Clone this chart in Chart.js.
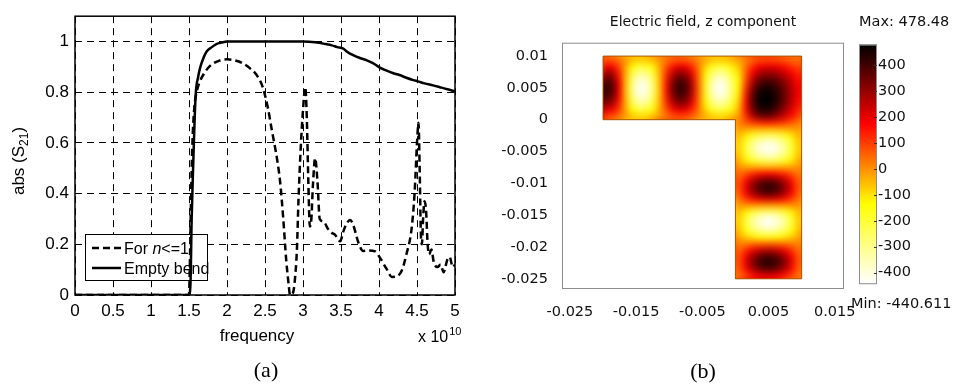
<!DOCTYPE html>
<html>
<head>
<meta charset="utf-8">
<script src="https://cdn.jsdelivr.net/npm/chart.js@4.4.1/dist/chart.umd.min.js"></script>
<style>
	html, body { margin: 0; padding: 0; background: #fff; }
	body { width: 960px; height: 388px; position: relative; overflow: hidden; }
	.panel { position: absolute; top: 0; width: 480px; height: 388px; }
	#left { left: 0; }
	#right { left: 480px; }
	.cap { position: absolute; font-family: "Liberation Serif", serif; font-size: 22px; line-height: 22px; color: #000; transform: translateX(-50%); }
</style>
</head>
<body>
<div class="panel" id="left"><canvas id="s21Chart" width="480" height="388"></canvas></div>
<div class="panel" id="right"><canvas id="fieldChart" width="480" height="388"></canvas></div>
<div class="cap" style="left:266px; top:359px;">(a)</div>
<div class="cap" style="left:703px; top:360px;">(b)</div>
<script>
'use strict';

// ---------- (a) |S21| against frequency (x 1e10) ----------
const freqTicks = [0, 0.5, 1, 1.5, 2, 2.5, 3, 3.5, 4, 4.5, 5];
const s21Ticks = [0, 0.2, 0.4, 0.6, 0.8, 1];

const emptyFreq = [0, 1.5, 1.52, 1.535, 1.556, 1.575, 1.59, 1.62, 1.645, 1.69, 1.73, 1.8, 1.86, 1.93, 2.0, 2.5, 3.0,
	3.16, 3.3, 3.38, 3.45, 3.53, 3.58, 3.66, 3.75, 3.84, 3.92, 4.01, 4.1, 4.18, 4.27, 4.36, 4.45, 4.51, 4.6, 4.71, 4.8, 4.9, 5.0];
const emptyS21 = [0, 0, 0.05, 0.3, 0.52, 0.7, 0.8, 0.86, 0.895, 0.935, 0.96, 0.978, 0.99, 0.996, 1.0, 1.0, 1.0,
	0.997, 0.99, 0.985, 0.978, 0.972, 0.96, 0.946, 0.935, 0.926, 0.915, 0.897, 0.885, 0.876, 0.868, 0.857, 0.848, 0.843, 0.835, 0.827, 0.82, 0.812, 0.803];

const bendFreq = [0, 1.5, 1.51, 1.525, 1.545, 1.57, 1.6, 1.64, 1.69, 1.78, 1.9, 2.0, 2.1, 2.21, 2.3, 2.39, 2.47,
	2.54, 2.59, 2.66, 2.7, 2.74, 2.78, 2.81, 2.83, 2.87, 2.89, 2.92, 2.94, 2.97, 3.0, 3.03, 3.05, 3.07, 3.09, 3.11,
	3.13, 3.16, 3.19, 3.22, 3.27, 3.33, 3.38, 3.42, 3.49, 3.53, 3.58, 3.62, 3.66, 3.73, 3.79, 3.87, 3.95, 4.01, 4.1,
	4.17, 4.23, 4.3, 4.36, 4.43, 4.47, 4.5, 4.52, 4.535, 4.55, 4.565, 4.58, 4.6, 4.62, 4.64, 4.66, 4.69, 4.72, 4.77,
	4.81, 4.85, 4.9, 4.93, 4.97, 5.0];
const bendS21 = [0, 0, 0.1, 0.35, 0.6, 0.74, 0.8, 0.84, 0.87, 0.905, 0.925, 0.93, 0.926, 0.914, 0.895, 0.868, 0.82,
	0.735, 0.65, 0.534, 0.444, 0.302, 0.135, 0.045, 0, 0.01, 0.05, 0.18, 0.37, 0.58, 0.73, 0.82, 0.7, 0.45, 0.27, 0.3,
	0.43, 0.54, 0.45, 0.3, 0.29, 0.26, 0.245, 0.238, 0.212, 0.25, 0.285, 0.296, 0.277, 0.206, 0.174, 0.176, 0.172, 0.148, 0.103,
	0.071, 0.073, 0.097, 0.16, 0.264, 0.41, 0.6, 0.68, 0.5, 0.25, 0.2, 0.3, 0.37, 0.33, 0.2, 0.16, 0.18, 0.13, 0.11,
	0.12, 0.09, 0.14, 0.15, 0.11, 0.12];

// ---------- (b) Ez in the L-shaped guide ----------
const fieldXTicks = [-0.025, -0.015, -0.005, 0.005, 0.015];
const fieldYTicks = [0.01, 0.005, 0, -0.005, -0.01, -0.015, -0.02, -0.025];
const barTicks = [400, 300, 200, 100, 0, -100, -200, -300, -400];
const fieldMax = 478.48;
const fieldMin = -440.611;

// horizontal arm, x = -0.0195 ... -0.0005 (centre line)
const armAlong = [420, 370, 180, -80, -310, -430, -410, -280, -70, 155, 335, 425, 400, 260, 45, -180, -360, -440, -400, -260];
// vertical leg, y = -0.0005 ... -0.0245 (centre line)
const legAlong = [140, -50, -250, -390, -440, -385, -240, -35, 180, 350, 430, 390, 220, -25, -270, -420, -425, -325, -150, 65, 260, 395, 440, 370, 200];
// weight across the guide width
const crossWeight = [0.16, 0.45, 0.71, 0.89, 0.99, 0.99, 0.89, 0.71, 0.45, 0.16];
// bend corner, rows y = 0.0095 ... 0.0005, columns x = 0.0005 ... 0.0095
const cornerField = [
	[-20, 10, 40, 60, 70, 70, 60, 50, 40, 30],
	[-60, 30, 110, 170, 190, 190, 180, 150, 110, 80],
	[-100, 50, 170, 250, 280, 280, 260, 220, 170, 120],
	[-130, 70, 230, 330, 360, 360, 330, 280, 220, 150],
	[-130, 100, 280, 390, 430, 420, 380, 320, 250, 170],
	[-120, 130, 330, 440, 470, 455, 410, 340, 260, 180],
	[-100, 150, 360, 465, 478, 470, 420, 345, 260, 170],
	[-70, 160, 360, 460, 478, 460, 405, 330, 245, 160],
	[-40, 150, 330, 420, 440, 420, 360, 285, 205, 130],
	[-10, 110, 250, 330, 350, 330, 280, 220, 160, 100],
];
// outline of the guide
const guideX = [-0.02, -0.02, 0.01, 0.01, 0, 0];
const guideY = [0, 0.01, 0.01, -0.025, -0.025, 0];
const CELL = 0.001;

const hot = function (v) {
	const t = Math.min(1, Math.max(0, (fieldMax - v) / (fieldMax - fieldMin)));
	const r = Math.round(255 * Math.min(1, t * 3));
	const g = Math.round(255 * Math.min(1, Math.max(0, t * 3 - 1)));
	const b = Math.round(255 * Math.max(0, t * 3 - 2));
	return 'rgb(' + r + ',' + g + ',' + b + ')';
};

const buildCells = function () {
	const cells = [];
	armAlong.forEach((v, i) => {
		crossWeight.forEach((w, j) => cells.push({ x: -0.02 + i * CELL, y: j * CELL, v: v * w }));
	});
	cornerField.forEach((row, r) => {
		row.forEach((v, c) => cells.push({ x: c * CELL, y: 0.009 - r * CELL, v: v }));
	});
	legAlong.forEach((v, i) => {
		crossWeight.forEach((w, j) => cells.push({ x: j * CELL, y: -(i + 1) * CELL, v: v * w }));
	});
	return cells;
};

const sans = 'Liberation Sans';
const verd = 'DejaVu Sans';

const fixedTicks = function (list) {
	return function (scale) {
		scale.ticks = list.map((v) => ({ value: v }));
	};
};

// legend, frame and axis titles of (a)
const s21Decor = {
	id: 's21Decor',
	beforeDatasetsDraw(chart) {
		const ctx = chart.ctx;
		ctx.save();
		ctx.fillStyle = '#fff';
		ctx.fillRect(85, 234, 122, 46);
		ctx.strokeStyle = '#000';
		ctx.lineWidth = 1;
		ctx.strokeRect(85.5, 234.5, 122, 46);
		ctx.lineWidth = 2.5;
		ctx.setLineDash([7, 4]);
		ctx.beginPath();
		ctx.moveTo(92, 248);
		ctx.lineTo(121, 248);
		ctx.stroke();
		ctx.setLineDash([]);
		ctx.beginPath();
		ctx.moveTo(92, 268);
		ctx.lineTo(121, 268);
		ctx.stroke();
		ctx.fillStyle = '#000';
		ctx.textBaseline = 'alphabetic';
		ctx.font = '16px "' + sans + '"';
		let x = 124;
		ctx.fillText('For ', x, 254);
		x += ctx.measureText('For ').width;
		ctx.font = 'italic 16px "' + sans + '"';
		ctx.fillText('n', x, 254);
		x += ctx.measureText('n').width;
		ctx.font = '16px "' + sans + '"';
		ctx.fillText('<=1', x, 254);
		ctx.fillText('Empty bend', 124, 274);
		ctx.restore();
	},
	afterDraw(chart) {
		const { ctx, chartArea: a } = chart;
		ctx.save();
		ctx.strokeStyle = '#000';
		ctx.lineWidth = 1.5;
		ctx.setLineDash([]);
		ctx.strokeRect(a.left, a.top, a.right - a.left, a.bottom - a.top);

		ctx.fillStyle = '#000';
		ctx.textBaseline = 'alphabetic';
		ctx.font = '17px "' + sans + '"';
		ctx.textAlign = 'center';
		ctx.fillText('frequency', 257, 341);
		ctx.textAlign = 'left';
		ctx.font = '16px "' + sans + '"';
		ctx.fillText('x 10', 418, 342);
		const w10 = ctx.measureText('x 10').width;
		ctx.font = '11px "' + sans + '"';
		ctx.fillText('10', 418 + w10 + 1, 335);

		// y title with subscript
		ctx.translate(24, 161);
		ctx.rotate(-Math.PI / 2);
		ctx.font = '17px "' + sans + '"';
		const a1 = ctx.measureText('abs (S').width;
		const a3 = ctx.measureText(')').width;
		ctx.font = '12px "' + sans + '"';
		const a2 = ctx.measureText('21').width;
		let x = -(a1 + a2 + a3) / 2;
		ctx.font = '17px "' + sans + '"';
		ctx.fillText('abs (S', x, 0);
		x += a1;
		ctx.font = '12px "' + sans + '"';
		ctx.fillText('21', x, 4);
		x += a2;
		ctx.font = '17px "' + sans + '"';
		ctx.fillText(')', x, 0);
		ctx.restore();
	},
};

const fieldDecor = {
	id: 'fieldDecor',
	beforeDatasetsDraw(chart) {
		const { ctx, scales } = chart;
		const xs = scales.x;
		const ys = scales.y;
		const off = document.createElement('canvas');
		off.width = chart.width;
		off.height = chart.height;
		const oc = off.getContext('2d');
		const cells = buildCells();
		[8, 0].forEach((grow) => {
			cells.forEach((c) => {
				const x0 = xs.getPixelForValue(c.x);
				const x1 = xs.getPixelForValue(c.x + CELL);
				const y0 = ys.getPixelForValue(c.y + CELL);
				const y1 = ys.getPixelForValue(c.y);
				oc.fillStyle = hot(c.v);
				oc.fillRect(x0 - grow, y0 - grow, x1 - x0 + 2 * grow + 0.6, y1 - y0 + 2 * grow + 0.6);
			});
		});
		const outline = function () {
			ctx.beginPath();
			guideX.forEach((gx, i) => {
				const px = xs.getPixelForValue(gx);
				const py = ys.getPixelForValue(guideY[i]);
				if (i === 0) ctx.moveTo(px, py);
				else ctx.lineTo(px, py);
			});
			ctx.closePath();
		};
		ctx.save();
		outline();
		ctx.clip();
		ctx.fillStyle = hot(0);
		ctx.fillRect(0, 0, chart.width, chart.height);
		ctx.filter = 'blur(3px)';
		ctx.drawImage(off, 0, 0);
		ctx.restore();
		ctx.save();
		outline();
		ctx.strokeStyle = 'rgba(160,80,0,0.9)';
		ctx.lineWidth = 1;
		ctx.stroke();
		ctx.restore();
	},
	afterDraw(chart) {
		const { ctx, chartArea: a, scales } = chart;
		const cb = scales.cb;
		ctx.save();
		ctx.strokeStyle = '#8c8c8c';
		ctx.lineWidth = 1;
		ctx.strokeRect(a.left + 0.5, a.top + 0.5, a.right - a.left - 1, a.bottom - a.top - 1);

		// colour bar
		const bx = a.right + 15;
		const bw = 18;
		const top = cb.getPixelForValue(fieldMax);
		const bottom = cb.getPixelForValue(fieldMin);
		const grad = ctx.createLinearGradient(0, top, 0, bottom);
		grad.addColorStop(0, 'rgb(0,0,0)');
		grad.addColorStop(1 / 3, 'rgb(255,0,0)');
		grad.addColorStop(2 / 3, 'rgb(255,255,0)');
		grad.addColorStop(1, 'rgb(255,255,255)');
		ctx.fillStyle = grad;
		ctx.fillRect(bx, top, bw, bottom - top);
		ctx.strokeStyle = '#8c8c8c';
		ctx.strokeRect(bx + 0.5, top + 0.5, bw - 1, bottom - top);
		ctx.strokeStyle = '#333';
		barTicks.forEach((t) => {
			const py = Math.round(cb.getPixelForValue(t)) + 0.5;
			ctx.beginPath();
			ctx.moveTo(bx + bw - 3, py);
			ctx.lineTo(bx + bw, py);
			ctx.stroke();
		});

		ctx.fillStyle = '#111';
		ctx.textBaseline = 'middle';
		ctx.font = '14px "' + verd + '"';
		ctx.textAlign = 'center';
		ctx.fillText('Electric field, z component', (a.left + a.right) / 2, 22);
		ctx.textAlign = 'left';
		ctx.font = '14.5px "' + verd + '"';
		ctx.fillText('Max: ' + fieldMax, bx, 22);
		ctx.fillText('Min: ' + fieldMin, 371, 304);
		ctx.restore();
	},
};

const createS21Chart = function () {
	const ctx = document.getElementById('s21Chart');
	const toPoints = (xs, ys) => xs.map((x, i) => ({ x: x, y: ys[i] }));
	new Chart(ctx, {
		type: 'line',
		data: {
			datasets: [
				{
					label: 'For n<=1',
					data: toPoints(bendFreq, bendS21),
					borderColor: '#000',
					borderWidth: 2.5,
					borderDash: [7, 4],
					pointRadius: 0,
					fill: false,
					cubicInterpolationMode: 'monotone',
				},
				{
					label: 'Empty bend',
					data: toPoints(emptyFreq, emptyS21),
					borderColor: '#000',
					borderWidth: 2.5,
					pointRadius: 0,
					fill: false,
					cubicInterpolationMode: 'monotone',
				},
			],
		},
		options: {
			responsive: false,
			animation: false,
			events: [],
			layout: { padding: { top: 10, right: 25, left: 0, bottom: 0 } },
			plugins: { legend: { display: false }, tooltip: { enabled: false } },
			scales: {
				x: {
					type: 'linear',
					min: 0,
					max: 5,
					afterBuildTicks: fixedTicks(freqTicks),
					afterFit: (s) => { s.height = 93; },
					grid: { color: '#000', lineWidth: 1, drawTicks: false },
					border: { display: false, dash: [7, 5] },
					ticks: {
						padding: 6,
						color: '#000',
						font: { family: sans, size: 17 },
						maxRotation: 0,
						callback: (v) => String(v),
					},
				},
				y: {
					type: 'linear',
					min: 0,
					max: 1.1,
					afterBuildTicks: fixedTicks(s21Ticks),
					afterFit: (s) => { s.width = 75; },
					grid: { color: '#000', lineWidth: 1, drawTicks: false },
					border: { display: false, dash: [7, 5] },
					ticks: {
						padding: 6,
						color: '#000',
						font: { family: sans, size: 17 },
						callback: (v) => String(v),
					},
				},
			},
		},
		plugins: [s21Decor],
	});
};

const createFieldChart = function () {
	const ctx = document.getElementById('fieldChart');
	// colour bar spans y = 35..283 inside a plot area of 33..289
	const perPx = (fieldMax - fieldMin) / (283 - 35);
	const tickFont = { family: verd, size: 14.5 };
	new Chart(ctx, {
		type: 'scatter',
		data: { datasets: [] },
		options: {
			responsive: false,
			animation: false,
			events: [],
			layout: { padding: { top: 33, right: 0, left: 0, bottom: 0 } },
			plugins: { legend: { display: false }, tooltip: { enabled: false } },
			scales: {
				x: {
					type: 'linear',
					position: 'bottom',
					min: -0.0262,
					max: 0.0164,
					afterBuildTicks: fixedTicks(fieldXTicks),
					afterFit: (s) => { s.height = 99; },
					grid: { display: false },
					border: { display: false },
					ticks: {
						padding: 7,
						color: '#111',
						font: tickFont,
						maxRotation: 0,
						autoSkip: false,
						callback: (v) => String(v),
					},
				},
				y: {
					type: 'linear',
					position: 'left',
					min: -0.0266,
					max: 0.0121,
					afterBuildTicks: fixedTicks(fieldYTicks),
					afterFit: (s) => { s.width = 82; },
					grid: { display: false },
					border: { display: false },
					ticks: {
						padding: 6,
						color: '#111',
						font: tickFont,
						autoSkip: false,
						callback: (v) => String(v),
					},
				},
				cb: {
					type: 'linear',
					position: 'right',
					min: fieldMin - (289 - 283) * perPx,
					max: fieldMax + (35 - 33) * perPx,
					afterBuildTicks: fixedTicks(barTicks),
					afterFit: (s) => { s.width = 116; },
					grid: { display: false, drawTicks: false },
					border: { display: false },
					ticks: {
						padding: 34,
						color: '#111',
						font: tickFont,
						autoSkip: false,
						callback: (v) => String(v),
					},
				},
			},
		},
		plugins: [fieldDecor],
	});
};

document.addEventListener('DOMContentLoaded', function () {
	createS21Chart();
	createFieldChart();
});
</script>
</body>
</html>
